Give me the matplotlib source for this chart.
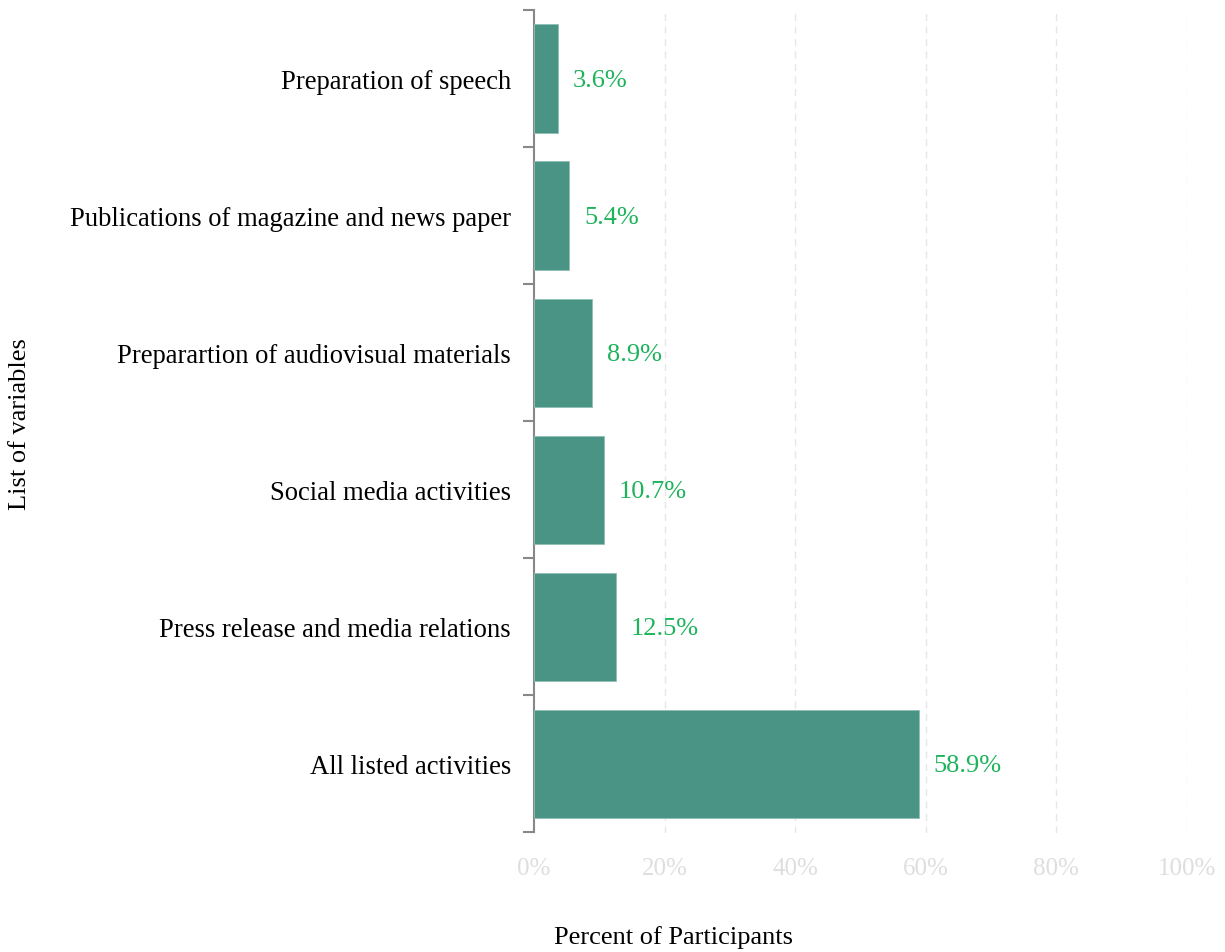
import matplotlib
matplotlib.use("Agg")
import matplotlib.pyplot as plt
import numpy as np

categories = [
    "All listed activities",
    "Press release and media relations",
    "Social media activities",
    "Preparartion of audiovisual materials",
    "Publications of magazine and news paper",
    "Preparation of speech",
]
percent = [58.9, 12.5, 10.7, 8.9, 5.4, 3.6]
xticks = [0, 20, 40, 60, 80, 100]

plt.rcParams["font.family"] = ["Liberation Serif", "DejaVu Serif"]

fig = plt.figure(figsize=(12.25, 9.53), dpi=100)
ax = fig.add_axes([534 / 1225, 1 - 833.5 / 953, (1187 - 534) / 1225, (833.5 - 11) / 953])

bar_color = "#4a9485"
label_color = "#1db35a"
y = np.arange(len(categories))

ax.barh(y, percent, height=0.79, color=bar_color, edgecolor="#8fbfb5", linewidth=0.6, zorder=3)
for yi, v in zip(y, percent):
    ax.text(v + 2.3, yi - 0.01, f"{v}%", va="center", ha="left", fontsize=19, color=label_color)

ax.set_xlim(0, 100)
ax.set_ylim(-0.5, len(categories) - 0.5)
ax.set_xticks(xticks)
ax.set_xticklabels([f"{t}%" for t in xticks], color="#dedede", fontsize=18)
ax.tick_params(axis="x", length=0, pad=17.5)

ax.set_yticks(y)
ax.set_yticklabels(categories, fontsize=19.2)
ax.tick_params(axis="y", which="major", length=0, pad=16.5)
ax.set_yticks(np.arange(-0.5, len(categories)), minor=True)
ax.tick_params(axis="y", which="minor", length=8, width=1.5, color="#888888")

for t in xticks[1:]:
    ax.axvline(t, color="#e6e6e6", linestyle=(0, (5, 4)), linewidth=1, zorder=1)

for s in ["top", "right", "bottom"]:
    ax.spines[s].set_visible(False)
ax.spines["left"].set_color("#888888")
ax.spines["left"].set_linewidth(1.5)

fig.text(20 / 1225, 1 - 424 / 953, "List of variables", rotation=90, va="center", ha="center", fontsize=19)
fig.text(673 / 1225, 1 - 938 / 953, "Percent of Participants", va="center", ha="center", fontsize=19)

fig.savefig("out.png", dpi=100)
